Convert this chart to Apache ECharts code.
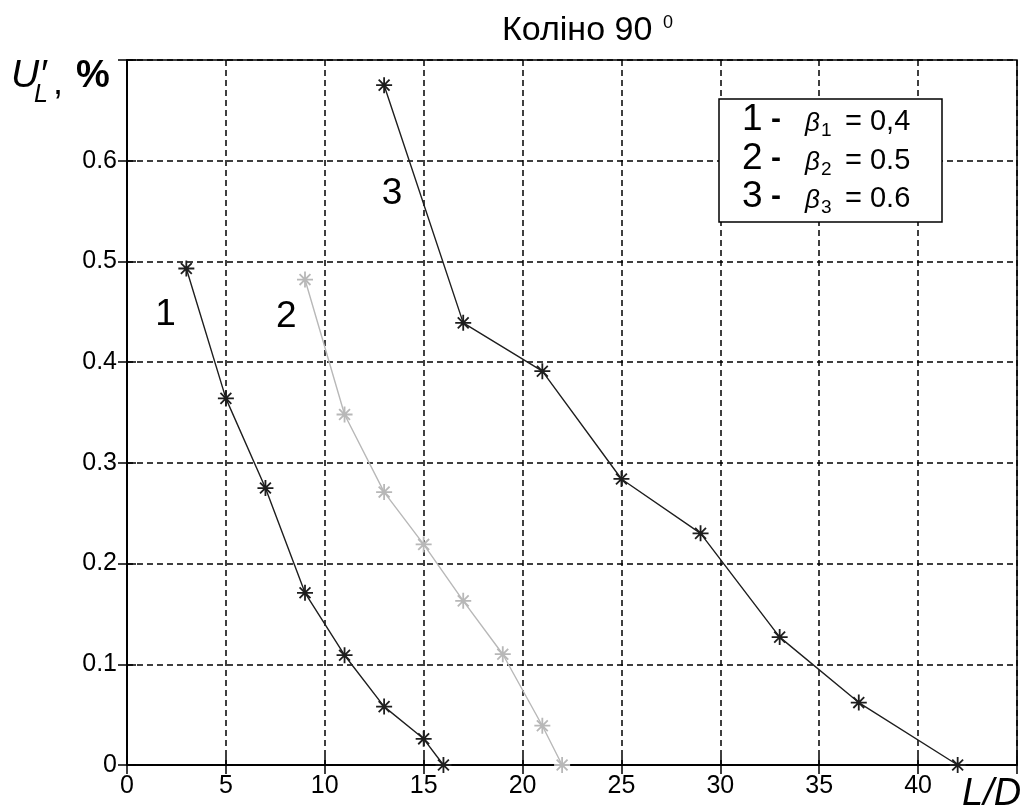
<!DOCTYPE html>
<html>
<head>
<meta charset="utf-8">
<title>Коліно 90°</title>
<script src="https://cdn.jsdelivr.net/npm/echarts@6/dist/echarts.min.js"></script>
<style>
  html, body { margin: 0; padding: 0; background: #fff; }
  #chart { width: 1022px; height: 808px; }
</style>
</head>
<body>
<div id="chart"></div>
<script>
// L/D values and loss U'_L (%) for the three flow-area ratios
const ldValues1 = [3, 5, 7, 9, 11, 13, 15, 16];
const uValues1  = [0.493, 0.364, 0.275, 0.171, 0.109, 0.058, 0.026, 0];

const ldValues2 = [9, 11, 13, 15, 17, 19, 21, 22];
const uValues2  = [0.482, 0.348, 0.271, 0.219, 0.163, 0.110, 0.039, 0];

const ldValues3 = [13, 17, 21, 25, 29, 33, 37, 42];
const uValues3  = [0.675, 0.439, 0.391, 0.284, 0.230, 0.127, 0.062, 0];

// curve numbers written beside each curve (data coordinates)
const curveTags   = ['1', '2', '3'];
const curveTagLd  = [1.95, 8.05, 13.4];
const curveTagU   = [0.447, 0.445, 0.567];

// legend rows: number and beta value text
const legendNums   = ['1', '2', '3'];
const legendValues = ['0,4', '0.5', '0.6'];

const xTicksMax = 45, xStep = 5;
const yTicksMax = 0.7, yStep = 0.1;

const FONT = '"Liberation Sans", Arial, sans-serif';
const DARK = '#1e1e1e';
const LIGHT = '#b8b8b8';

// MATLAB-style asterisk marker
const STAR = 'path://M0,5L10,5M5,0L5,10M1.6,1.6L8.4,8.4M1.6,8.4L8.4,1.6';

function zip(xs, ys) { return xs.map((x, i) => [x, ys[i]]); }

function curve(name, xs, ys, color) {
  return {
    name: name,
    type: 'line',
    data: zip(xs, ys),
    symbol: STAR,
    symbolSize: 16,
    showAllSymbol: true,
    lineStyle: { color: color, width: 1.4 },
    itemStyle: { color: color, borderColor: color, borderWidth: 1.8 },
    emphasis: { disabled: true },
    z: 5
  };
}

function txt(x, y, text, font, z) {
  return {
    type: 'text', x: x, y: y, z: z || 10,
    style: { text: text, font: font + ' ' + FONT, fill: '#000', verticalAlign: 'middle', align: 'left' }
  };
}

const chart = echarts.init(document.getElementById('chart'), null, { renderer: 'canvas' });

const gridBox = { left: 127, right: 5, top: 60, bottom: 43 };

const legendRowY = [120, 159, 197];
const graphics = [
  // title
  txt(502, 31, 'Коліно 90', '34px'),
  txt(663, 23, '0', '18px'),
  // y axis name U'_L, %
  txt(11, 76, 'U\u2032', 'italic 39px'),
  txt(34, 95, 'L', 'italic 25px'),
  txt(53, 84, ',', '36px'),
  txt(76, 77, '%', 'bold 38px'),
  // x axis name
  txt(962, 794, 'L/D', 'italic 38px'),
  // legend box
  { type: 'rect', shape: { x: 719, y: 99, width: 223, height: 123 },
    style: { fill: '#fff', stroke: '#000', lineWidth: 1.5 }, z: 20 }
];
legendNums.forEach((n, i) => {
  const cy = legendRowY[i];
  graphics.push(
    txt(742, cy, n, '37px', 21),
    txt(771, cy, '-', 'bold 30px', 21),
    txt(805, cy + 4, 'β', 'italic 26px', 21),
    txt(821, cy + 11, n, '19px', 21),
    txt(845, cy + 2, '= ' + legendValues[i], '29px', 21)
  );
});

const axisFont = { fontFamily: FONT, fontSize: 25, color: '#000' };
const gridDash = { color: '#000', width: 1.5, type: [6, 4] };

const option = {
  animation: false,
  backgroundColor: '#fff',
  grid: Object.assign({ show: true, borderColor: '#000', borderWidth: 1.5, backgroundColor: 'transparent' }, gridBox),
  xAxis: [
    {
      type: 'value', min: 0, max: xTicksMax, interval: xStep, position: 'bottom',
      axisLine: { show: true, lineStyle: { color: '#000', width: 1.5 } },
      axisTick: { show: true, inside: true, length: 9, lineStyle: { color: '#000', width: 1.5 } },
      axisLabel: Object.assign({ margin: 9, formatter: v => (v >= xTicksMax ? '' : String(v)) }, axisFont),
      splitLine: { show: true, lineStyle: gridDash }
    },
    {
      type: 'value', min: 0, max: xTicksMax, interval: xStep, position: 'top',
      axisLine: { show: true, lineStyle: { color: '#000', width: 1.5 } },
      axisTick: { show: true, inside: true, length: 9, lineStyle: { color: '#000', width: 1.5 } },
      axisLabel: { show: false }, splitLine: { show: false }
    }
  ],
  yAxis: [
    {
      type: 'value', min: 0, max: yTicksMax, interval: yStep, position: 'left',
      axisLine: { show: true, lineStyle: { color: '#000', width: 1.5 } },
      axisTick: { show: true, inside: true, length: 9, lineStyle: { color: '#000', width: 1.5 } },
      axisLabel: Object.assign({
        margin: 10,
        formatter: v => (v >= yTicksMax - 1e-9 ? '' : (v === 0 ? '0' : v.toFixed(1)))
      }, axisFont),
      splitLine: { show: true, lineStyle: gridDash }
    },
    {
      type: 'value', min: 0, max: yTicksMax, interval: yStep, position: 'right',
      axisLine: { show: true, lineStyle: { color: '#000', width: 1.5 } },
      axisTick: { show: true, inside: true, length: 9, lineStyle: { color: '#000', width: 1.5 } },
      axisLabel: { show: false }, splitLine: { show: false }
    }
  ],
  series: [
    curve('β1 = 0,4', ldValues1, uValues1, DARK),
    curve('β2 = 0.5', ldValues2, uValues2, LIGHT),
    curve('β3 = 0.6', ldValues3, uValues3, DARK),
    {
      name: 'curve numbers',
      type: 'scatter',
      symbolSize: 0,
      itemStyle: { opacity: 1 },
      data: curveTags.map((t, i) => ({ name: t, value: [curveTagLd[i], curveTagU[i]] })),
      label: {
        show: true, position: 'inside', formatter: p => p.name,
        fontFamily: FONT, fontSize: 37, color: '#000', opacity: 1
      },
      emphasis: { disabled: true },
      z: 6
    }
  ],
  graphic: graphics
};

chart.setOption(option);
</script>
</body>
</html>
